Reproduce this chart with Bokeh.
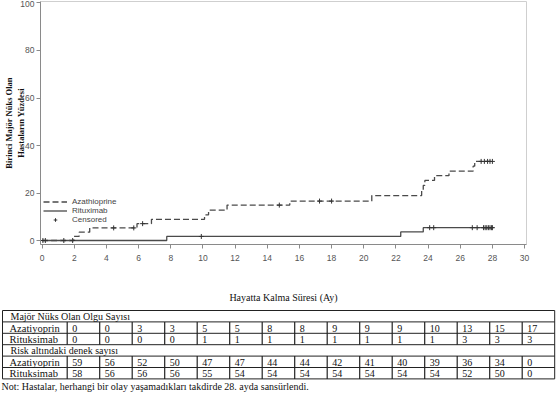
import numpy as np
from bokeh.plotting import figure
from bokeh.models import Range1d, Legend, LegendItem, FixedTicker
from bokeh.embed import file_html
from bokeh.resources import INLINE
from bokeh.core.properties import value

# ---------------- data ----------------
aza_time = [0, 1.97, 2.3, 2.96, 5.9, 6.8, 10.1, 10.35, 11.5, 15.4, 20.5, 23.6, 23.7, 23.8, 24.4, 25.3, 26.8, 26.9, 28.0]
aza_pct = [0, 1.7, 3.5, 5.3, 7.1, 8.9, 10.8, 12.8, 14.9, 16.6, 18.9, 21.1, 23.2, 25.3, 27.3, 29.2, 31.3, 33.3, 33.3]
rit_time = [0, 7.75, 22.3, 23.7, 28.0]
rit_pct = [0, 1.7, 3.6, 5.4, 5.4]
aza_cens = [0.05, 1.35, 4.45, 5.7, 6.25, 14.75, 17.25, 18.0, 27.3, 27.5, 27.7, 27.85, 28.0]
rit_cens = [0.2, 1.9, 9.9, 24.1, 24.35, 26.75, 27.05, 27.45, 27.55, 27.65, 27.75, 27.85, 27.95, 28.0]

x_ticks = list(range(0, 31, 2))
y_ticks = [0, 20, 40, 60, 80, 100]

tbl_times = list(range(0, 29, 2))
aza_events = [0, 0, 3, 3, 5, 5, 8, 8, 9, 9, 9, 10, 13, 15, 17]
rit_events = [0, 0, 0, 0, 1, 1, 1, 1, 1, 1, 1, 1, 3, 3, 3]
aza_risk = [59, 56, 52, 50, 47, 47, 44, 44, 42, 41, 40, 39, 36, 34, 0]
rit_risk = [58, 56, 56, 56, 55, 54, 54, 54, 54, 54, 54, 54, 52, 50, 0]

group_names = ["Azatiyoprin", "Rituksimab"]
header_events = "Majör Nüks Olan Olgu Sayısı"
header_risk = "Risk altındaki denek sayısı"
note_text = "Not:  Hastalar, herhangi bir olay yaşamadıkları takdirde 28. ayda sansürlendi."


def level_at(times, pcts, t):
    idx = np.searchsorted(np.array(times), np.array(t), side="right") - 1
    return list(np.array(pcts)[idx])


# ---------------- layout constants (pixels) ----------------
W, H = 556, 393
fr_l, fr_r, fr_t, fr_b = 40.0, 526.0, 1.0, 244.0      # plot frame edges
x_lo, x_hi = -0.1, 30.12                              # visible data span of x
y_lo, y_hi = -1.68, 100.63                            # visible data span of y
sx = (fr_r - fr_l) / (x_hi - x_lo)
sy = (fr_b - fr_t) / (y_hi - y_lo)
xr = Range1d(x_lo - fr_l / sx, x_hi + (W - fr_r) / sx)
yr = Range1d(y_lo - (H - fr_b) / sy, y_hi + fr_t / sy)

p = figure(width=W, height=H, x_range=xr, y_range=yr, output_backend="svg",
           toolbar_location=None, min_border=0, margin=(0, 0, 0, 0))
p.extra_x_ranges = {"scr": Range1d(0, W)}
p.extra_y_ranges = {"scr": Range1d(H, 0)}
p.grid.visible = False
p.outline_line_color = None
p.background_fill_color = "white"
p.border_fill_color = "white"

# light frame border (top, right)
p.segment(x0=[fr_l, fr_r], y0=[fr_t, fr_t], x1=[fr_r, fr_r], y1=[fr_t, fr_b],
          line_color="#cfcfcf", line_width=1, x_range_name="scr", y_range_name="scr")

line_col = "#4a4a4a"
r_aza = p.step(aza_time, aza_pct, mode="after", line_color=line_col, line_width=1.3, line_dash="6 3")
r_rit = p.step(rit_time, rit_pct, mode="after", line_color=line_col, line_width=1.3)
r_c1 = p.scatter(aza_cens, level_at(aza_time, aza_pct, aza_cens), marker="cross", size=5,
                 line_color="#333333", line_width=1)
p.scatter(rit_cens, level_at(rit_time, rit_pct, rit_cens), marker="cross", size=5,
          line_color="#333333", line_width=1)

for ax in (p.xaxis[0], p.yaxis[0]):
    ax.axis_line_color = "#8a8a8a"
    ax.major_tick_line_color = "#8a8a8a"
    ax.minor_tick_line_color = None
    ax.major_tick_out = 4
    ax.major_tick_in = 0
    ax.major_label_text_font = "Liberation Sans"
    ax.major_label_text_font_size = "8.5px"
    ax.major_label_text_color = "#555555"

p.xaxis.fixed_location = y_lo
p.xaxis.bounds = (x_lo, x_hi)
p.yaxis.fixed_location = x_lo
p.yaxis.bounds = (y_lo, y_hi)
p.xaxis.ticker = FixedTicker(ticks=x_ticks)
p.yaxis.ticker = FixedTicker(ticks=y_ticks)
p.xaxis.major_label_standoff = 6
p.yaxis.major_label_standoff = 2

p.xaxis.axis_label = "Hayatta Kalma Süresi (Ay)"
p.xaxis.axis_label_text_font = "Liberation Serif"
p.xaxis.axis_label_text_font_style = "normal"
p.xaxis.axis_label_text_font_size = "10px"
p.xaxis.axis_label_text_color = "#111111"
p.xaxis.axis_label_standoff = 28

p.yaxis.axis_label = "Birinci Majör Nüks Olan\nHastaların Yüzdesi"
p.yaxis.axis_label_text_font = "Liberation Serif"
p.yaxis.axis_label_text_font_style = "bold"
p.yaxis.axis_label_text_font_size = "8.5px"
p.yaxis.axis_label_text_color = "#111111"
p.yaxis.axis_label_standoff = -9

legend = Legend(items=[LegendItem(label="Azathioprine", renderers=[r_aza]),
                       LegendItem(label="Rituximab", renderers=[r_rit]),
                       LegendItem(label="Censored", renderers=[r_c1])],
                location=(fr_l + 3, H - 223.5), orientation="vertical",
                label_text_font="Liberation Sans", label_text_font_size="8px",
                label_text_color="#444444", label_height=9, glyph_height=9, glyph_width=24,
                label_standoff=5, spacing=0, padding=0, margin=0,
                border_line_color=None, background_fill_alpha=0)
p.add_layout(legend)

# ---------------- risk table (pixel coordinates via "scr" ranges) ----------------
tbl_left, tbl_right, lab_w = 2.0, 554.2, 64.7
tbl_top, row_h = 310.0, 11.4
n_cols = len(tbl_times)
col_w = (tbl_right - tbl_left - lab_w) / n_cols
row_tops = [tbl_top + i * row_h for i in range(7)]
kw = dict(x_range_name="scr", y_range_name="scr")

p.segment(x0=[tbl_left] * 7, x1=[tbl_right] * 7, y0=row_tops, y1=row_tops,
          line_color="#222222", line_width=1, **kw)
p.segment(x0=[tbl_left, tbl_right], x1=[tbl_left, tbl_right], y0=[row_tops[0]] * 2, y1=[row_tops[6]] * 2,
          line_color="#222222", line_width=1, **kw)
vx = [tbl_left + lab_w + i * col_w for i in range(n_cols)]
for r0, r1 in ((1, 3), (4, 6)):
    p.segment(x0=vx, x1=vx, y0=[row_tops[r0]] * len(vx), y1=[row_tops[r1]] * len(vx),
              line_color="#222222", line_width=1.2, **kw)

fnt = value("Liberation Serif")
p.text(x=[tbl_left + 8, tbl_left + 8], y=[row_tops[0] + row_h / 2 + 0.5, row_tops[3] + row_h / 2 + 0.5],
       text=[header_events, header_risk], text_font=fnt, text_font_size="10px",
       text_baseline="middle", text_align="left", text_color="#111111", **kw)
p.text(x=[tbl_left + 7] * 4, y=[row_tops[k] + row_h / 2 + 0.5 for k in (1, 2, 4, 5)],
       text=group_names * 2, text_font=fnt, text_font_size="10.5px",
       text_baseline="middle", text_align="left", text_color="#111111", **kw)
cx = [v + 5 for v in vx]
for k, vals in ((1, aza_events), (2, rit_events), (4, aza_risk), (5, rit_risk)):
    p.text(x=cx, y=[row_tops[k] + row_h / 2 + 0.5] * n_cols, text=[str(v) for v in vals],
           text_font=fnt, text_font_size="10px", text_baseline="middle", text_align="left",
           text_color="#111111", **kw)
p.text(x=[1], y=[385.5], text=[note_text], text_font=fnt, text_font_size="10px",
       text_baseline="middle", text_align="left", text_color="#111111", **kw)

open("out.html", "w").write(file_html(p, INLINE))
